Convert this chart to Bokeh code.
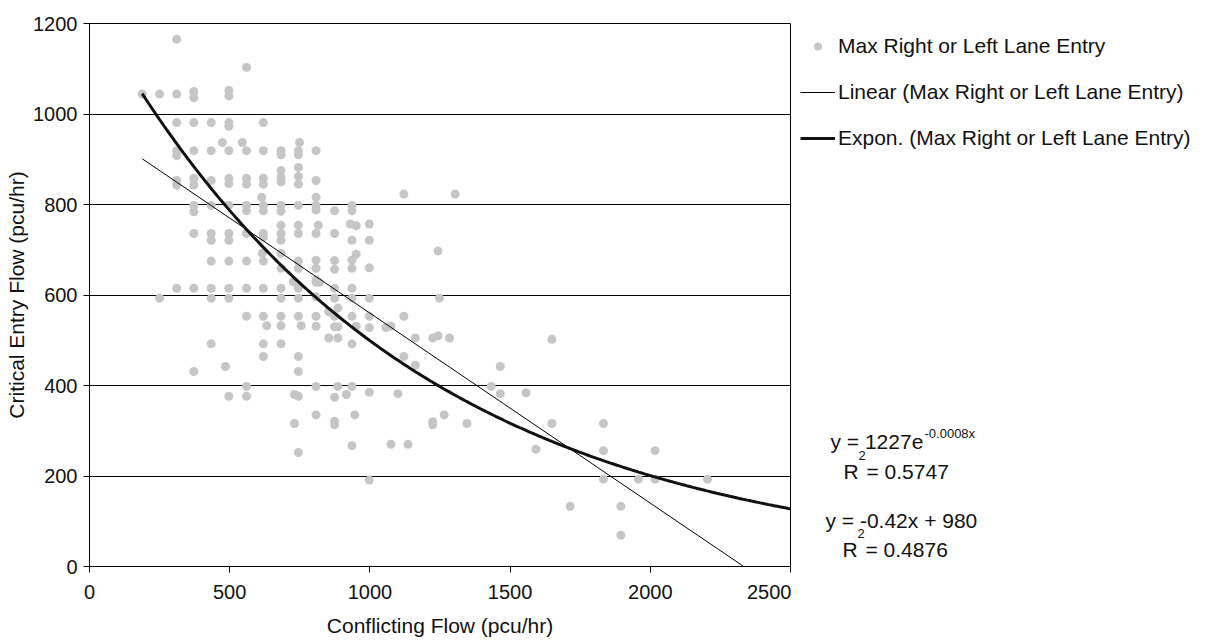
import numpy as np
from bokeh.plotting import figure
from bokeh.layouts import row
from bokeh.models import Range1d, FixedTicker, Legend, LegendItem, Label
from bokeh.embed import file_html
from bokeh.resources import INLINE

# ---------------- data ----------------
conflicting_flow = [
    188,
    250, 250,
    311, 311, 311, 311, 311, 311, 311, 311,
    372, 372, 372, 372, 372, 372, 372, 372, 372, 372, 372,
    434, 434, 434, 434, 434, 434, 434, 434, 434, 434,
    474,
    485,
    497, 497, 497, 497, 497, 497, 497, 497, 497, 497, 497, 497, 497, 497,
    545,
    560, 560, 560, 560, 560, 560, 560, 560, 560, 560, 560, 560,
    614, 616, 632,
    620, 620, 620, 620, 620, 620, 620, 620, 620, 620, 620, 620, 620,
    683, 683, 683, 683, 683, 683, 683, 683, 683, 683, 683, 683, 683, 683, 683, 683, 683,
    727, 731, 731, 749, 755,
    745, 745, 745, 745, 745, 745, 745, 745, 745, 745, 745, 745, 745, 745, 745, 745, 745,
    808, 808, 808, 808, 808, 808, 808, 808, 808, 808, 808, 808, 808, 808, 808,
    816, 820,
    853, 853, 886, 886, 886, 885,
    874, 874, 874, 874, 874, 874, 874, 874, 874, 874, 874,
    916, 930, 946, 951, 951, 951,
    936, 936, 936, 936, 936, 936, 936, 936, 936, 936, 936,
    998, 998, 998, 998, 998, 998, 998, 998,
    1057, 1075, 1075, 1100, 1121, 1121, 1121, 1136, 1162, 1162,
    1224, 1224, 1224, 1243, 1243, 1248, 1265, 1284, 1304, 1346,
    1433, 1465, 1465, 1557, 1592, 1649, 1649, 1714,
    1833, 1833, 1833, 1895, 1895, 1958, 2017, 2017, 2204,
]
entry_flow = [
    1044,
    1044, 593,
    1165, 1044, 981, 919, 908, 853, 843, 615,
    1050, 1036, 981, 919, 858, 843, 798, 784, 736, 615, 431,
    981, 919, 853, 798, 736, 721, 675, 615, 593, 492,
    937,
    442,
    1052, 1040, 981, 973, 919, 858, 846, 798, 736, 721, 675, 615, 593, 376,
    937,
    1103, 919, 858, 845, 798, 786, 736, 675, 615, 553, 398, 376,
    816, 692, 532,
    981, 919, 858, 845, 798, 786, 736, 728, 675, 615, 553, 492, 464,
    919, 910, 875, 860, 850, 798, 785, 754, 736, 721, 692, 659, 615, 593, 553, 532, 492,
    629, 380, 316, 937, 532,
    919, 910, 882, 862, 845, 798, 754, 736, 675, 659, 615, 593, 553, 464, 431, 376, 252,
    919, 853, 816, 798, 788, 736, 677, 659, 633, 596, 553, 531, 398, 335, 628,
    754, 628,
    563, 505, 571, 530, 505, 398,
    786, 736, 676, 657, 615, 593, 553, 530, 374, 321, 313,
    380, 757, 335, 753, 690, 531,
    798, 786, 721, 677, 659, 615, 593, 553, 492, 398, 267,
    757, 721, 660, 593, 553, 528, 385, 191,
    528, 531, 270, 382, 823, 553, 464, 270, 505, 445,
    505, 320, 313, 510, 697, 593, 335, 505, 823, 316,
    398, 442, 382, 384, 259, 502, 316, 133,
    316, 256, 193, 133, 69, 193, 256, 193, 193,
]

x_ticks = [0, 500, 1000, 1500, 2000, 2500]
y_ticks = [0, 200, 400, 600, 800, 1000, 1200]

series_name = "Max Right or Left Lane Entry"
linear_name = "Linear (Max Right or Left Lane Entry)"
expon_name = "Expon. (Max Right or Left Lane Entry)"

# trendline coefficients as drawn in the reference (labels show rounded values)
lin_slope, lin_intercept = -0.42, 980.0
exp_a, exp_k = 1240.0, -0.00091

eq_exp_text, eq_exp_sup = "y = 1227e", "-0.0008x"
r2_exp_value = "= 0.5747"
eq_lin_text = "y = -0.42x + 980"
r2_lin_value = "= 0.4876"

FONT = "Liberation Sans"
TXT = "#111111"
PT_COLOR = "#c6c6c6"

H = 640
BORDER_TOP, BORDER_BOTTOM = 23, 74

# ---------------- main chart ----------------
p = figure(width=791, height=H, output_backend="svg", toolbar_location=None,
           x_range=Range1d(0, 2500), y_range=Range1d(0, 1200),
           min_border_left=89, min_border_right=1, min_border_top=BORDER_TOP,
           min_border_bottom=BORDER_BOTTOM, background_fill_color="white",
           border_fill_color="white")
p.outline_line_color = "black"
p.outline_line_width = 1

p.scatter(conflicting_flow, entry_flow, size=9, fill_color=PT_COLOR, line_color=None)

x_min = min(conflicting_flow)
lx = np.array([x_min, -lin_intercept / lin_slope])
p.line(lx, lin_slope * lx + lin_intercept, line_color="black", line_width=1)

ex = np.linspace(x_min, 2500, 300)
p.line(ex, exp_a * np.exp(exp_k * ex), line_color=TXT, line_width=3)

for ax in (p.xaxis[0], p.yaxis[0]):
    ax.axis_line_color = "black"
    ax.axis_line_width = 1
    ax.major_tick_line_color = "black"
    ax.major_tick_in = 0
    ax.major_tick_out = 6
    ax.minor_tick_line_color = None
    ax.major_label_text_font = FONT
    ax.major_label_text_font_size = "20px"
    ax.major_label_text_color = TXT
    ax.axis_label_text_font = FONT
    ax.axis_label_text_font_size = "21px"
    ax.axis_label_text_font_style = "normal"
    ax.axis_label_text_color = TXT

p.xaxis.ticker = FixedTicker(ticks=x_ticks)
p.yaxis.ticker = FixedTicker(ticks=y_ticks)
p.xaxis.axis_label = "Conflicting Flow (pcu/hr)"
p.yaxis.axis_label = "Critical Entry Flow (pcu/hr)"
p.xaxis.major_label_standoff = 12
p.xaxis.axis_label_standoff = 12
p.yaxis.major_label_standoff = 6
p.yaxis.axis_label_standoff = 2

p.xgrid.visible = False
p.ygrid.ticker = FixedTicker(ticks=y_ticks)
p.ygrid.grid_line_color = "black"
p.ygrid.grid_line_width = 1

# ---------------- side panel: legend + trendline equations ----------------
# ranges chosen so that one unit equals one page pixel (y measured downwards)
q = figure(width=418, height=H, output_backend="svg", toolbar_location=None,
           x_range=Range1d(791, 1209), y_range=Range1d(H - BORDER_BOTTOM, BORDER_TOP),
           x_axis_type=None, y_axis_type=None, min_border_left=0,
           min_border_right=0, min_border_top=BORDER_TOP,
           min_border_bottom=BORDER_BOTTOM, background_fill_color="white",
           border_fill_color="white")
q.outline_line_color = None
q.grid.visible = False

nan = [float("nan")]
leg_pts = q.scatter(nan, nan, size=6, fill_color=PT_COLOR, line_color=None)
leg_lin = q.line(nan, nan, line_color="black", line_width=1)
leg_exp = q.line(nan, nan, line_color=TXT, line_width=3)

legend = Legend(items=[LegendItem(label=series_name, renderers=[leg_pts]),
                       LegendItem(label=linear_name, renderers=[leg_lin]),
                       LegendItem(label=expon_name, renderers=[leg_exp])],
                location=(9, 416), border_line_color=None,
                background_fill_alpha=0, label_text_font=FONT,
                label_text_font_size="21px", label_text_color=TXT,
                glyph_width=35, glyph_height=20, label_standoff=3,
                spacing=22, padding=0, margin=0)
q.add_layout(legend)

def lab(x, y, text, size):
    q.add_layout(Label(x=x, y=y, text=text, text_font=FONT, text_font_size=size,
                       text_color=TXT, text_baseline="middle", text_align="left"))

lab(830, 441, eq_exp_text, "21px")
lab(924, 433, eq_exp_sup, "13px")
lab(843, 471, "R", "21px")
lab(858, 455, "2", "13px")
lab(866, 471, r2_exp_value, "21px")
lab(825, 520, eq_lin_text, "21px")
lab(842, 549, "R", "21px")
lab(857, 533, "2", "13px")
lab(865, 549, r2_lin_value, "21px")

layout = row(p, q, spacing=0)
open("out.html", "w").write(file_html(layout, INLINE))
